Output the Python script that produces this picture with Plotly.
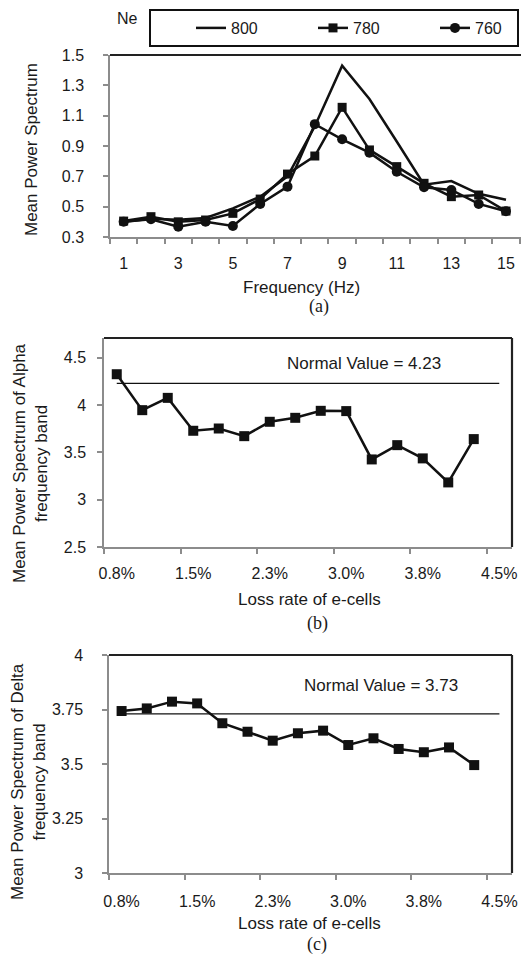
import plotly.graph_objects as go

W, H = 521, 958

# ---------------- data ----------------
freq = [1, 2, 3, 4, 5, 6, 7, 8, 9, 10, 11, 12, 13, 14, 15]
freq_tick_vals = [1, 3, 5, 7, 9, 11, 13, 15]
freq_tick_text = ["1", "3", "5", "7", "9", "11", "13", "15"]
ne_800 = [0.40, 0.42, 0.413, 0.425, 0.489, 0.566, 0.70, 1.03, 1.43, 1.21, 0.93, 0.645, 0.669, 0.585, 0.546]
ne_780 = [0.405, 0.434, 0.40, 0.412, 0.456, 0.55, 0.715, 0.834, 1.155, 0.874, 0.764, 0.654, 0.566, 0.577, 0.471]
ne_760 = [0.40, 0.417, 0.368, 0.40, 0.373, 0.518, 0.632, 1.044, 0.944, 0.856, 0.73, 0.628, 0.61, 0.518, 0.47]

loss_rate = [0.75, 1.0, 1.25, 1.5, 1.75, 2.0, 2.25, 2.5, 2.75, 3.0, 3.25, 3.5, 3.75, 4.0, 4.25, 4.5]
loss_tick_vals = [0.75, 1.5, 2.25, 3.0, 3.75, 4.5]
loss_tick_text = ["0.8%", "1.5%", "2.3%", "3.0%", "3.8%", "4.5%"]
alpha_power = [4.327, 3.947, 4.077, 3.729, 3.753, 3.672, 3.824, 3.866, 3.940, 3.937,
               3.426, 3.577, 3.437, 3.183, 3.641]
delta_power = [3.743, 3.755, 3.786, 3.778, 3.687, 3.648, 3.607, 3.641, 3.653, 3.587,
               3.618, 3.569, 3.554, 3.576, 3.495]
alpha_normal = 4.23
delta_normal = 3.73

# ---------------- helpers ----------------
def px_x(v):
    return v / W

def px_y(v):
    return 1 - v / H

SANS = "Liberation Sans, Arial, sans-serif"
SERIF = "Liberation Serif, Times New Roman, serif"
AXIS_GRAY = "#8c8c8c"
BLACK = "#111111"

fig = go.Figure()

# panel (a)
fig.add_trace(go.Scatter(x=freq, y=ne_800, name="800", mode="lines",
                         line=dict(color=BLACK, width=2.5), xaxis="x", yaxis="y"))
fig.add_trace(go.Scatter(x=freq, y=ne_780, name="780", mode="lines+markers",
                         line=dict(color=BLACK, width=2.5),
                         marker=dict(symbol="square", size=9, color=BLACK), xaxis="x", yaxis="y"))
fig.add_trace(go.Scatter(x=freq, y=ne_760, name="760", mode="lines+markers",
                         line=dict(color=BLACK, width=2.5),
                         marker=dict(symbol="circle", size=10, color=BLACK), xaxis="x", yaxis="y"))

# panel (b)
fig.add_trace(go.Scatter(x=loss_rate, y=[alpha_normal] * len(loss_rate), mode="lines",
                         line=dict(color=BLACK, width=1.2), showlegend=False,
                         xaxis="x2", yaxis="y2"))
fig.add_trace(go.Scatter(x=loss_rate[:len(alpha_power)], y=alpha_power, mode="lines+markers",
                         line=dict(color=BLACK, width=2.5),
                         marker=dict(symbol="square", size=10, color=BLACK), showlegend=False,
                         xaxis="x2", yaxis="y2"))

# panel (c)
fig.add_trace(go.Scatter(x=loss_rate, y=[delta_normal] * len(loss_rate), mode="lines",
                         line=dict(color=BLACK, width=1.2), showlegend=False,
                         xaxis="x3", yaxis="y3"))
fig.add_trace(go.Scatter(x=loss_rate[:len(delta_power)], y=delta_power, mode="lines+markers",
                         line=dict(color=BLACK, width=2.5),
                         marker=dict(symbol="square", size=10, color=BLACK), showlegend=False,
                         xaxis="x3", yaxis="y3"))

tickfont = dict(family=SANS, size=16, color="#1a1a1a")

def xaxis(domain, rng, vals, text, minor_vals, anchor, standoff):
    return dict(domain=domain, range=rng, tickmode="array", tickvals=vals, ticktext=text,
                ticks="", showgrid=False, zeroline=False, showline=True,
                linecolor=AXIS_GRAY, linewidth=1.5, tickfont=tickfont, anchor=anchor,
                ticklabelstandoff=standoff, fixedrange=True, automargin=False,
                minor=dict(tickmode="array", tickvals=minor_vals, ticks="outside",
                           ticklen=5, tickwidth=1.5, tickcolor=AXIS_GRAY, showgrid=False))

def yaxis(domain, rng, vals, anchor, standoff, fmt=None):
    d = dict(domain=domain, range=rng, tickmode="array", tickvals=vals,
             ticks="outside", ticklen=5, tickwidth=1.5, tickcolor=AXIS_GRAY,
             showgrid=False, zeroline=False, showline=True, linecolor=AXIS_GRAY,
             linewidth=1.5, tickfont=tickfont, anchor=anchor, automargin=False,
             ticklabelstandoff=standoff, fixedrange=True)
    if fmt:
        d["tickformat"] = fmt
    return d

freq_minor = [0.5 + i for i in range(16)]
loss_minor = [0.625, 1.375, 2.125, 2.875, 3.625, 4.375]

fig.update_layout(
    width=W, height=H,
    margin=dict(l=0, r=0, t=0, b=0, pad=0),
    paper_bgcolor="white", plot_bgcolor="white",
    font=dict(family=SANS, color="#1a1a1a"),
    xaxis=xaxis([px_x(110), 1.0], [0.5, 15.55], freq_tick_vals, freq_tick_text,
                freq_minor, "y", 11),
    yaxis=yaxis([px_y(237), px_y(55)], [0.3, 1.5], [0.3, 0.5, 0.7, 0.9, 1.1, 1.3, 1.5],
                "x", 16, ".1f"),
    xaxis2=xaxis([px_x(104), px_x(512)], [0.625, 4.625], loss_tick_vals, loss_tick_text,
                 loss_minor, "y2", 11),
    yaxis2=yaxis([px_y(547), px_y(338)], [2.5, 4.71], [2.5, 3.0, 3.5, 4.0, 4.5], "x2", 8),
    xaxis3=xaxis([px_x(109), px_x(512)], [0.625, 4.625], loss_tick_vals, loss_tick_text,
                 loss_minor, "y3", 13),
    yaxis3=yaxis([px_y(873), px_y(655)], [3.0, 4.0], [3.0, 3.25, 3.5, 3.75, 4.0], "x3", 16),
    legend=dict(orientation="h", x=px_x(519), y=px_y(9), xanchor="right", yanchor="top",
                bordercolor=BLACK, borderwidth=2, bgcolor="white",
                font=dict(family=SANS, size=16, color="#1a1a1a"),
                entrywidth=37, itemwidth=30, indentation=40),
    showlegend=True,
)

# dark top/right frame lines
shapes = [
    dict(type="line", xref="x domain", yref="y domain", x0=0, x1=1, y0=1, y1=1,
         line=dict(color="#222222", width=2.2)),
]
for xr, yr in (("x2", "y2"), ("x3", "y3")):
    shapes.append(dict(type="line", xref=f"{xr} domain", yref=f"{yr} domain", x0=0, x1=1,
                       y0=1, y1=1, line=dict(color="#222222", width=2.2)))
    shapes.append(dict(type="line", xref=f"{xr} domain", yref=f"{yr} domain", x0=1, x1=1,
                       y0=0, y1=1, line=dict(color="#222222", width=2.2)))
fig.update_layout(shapes=shapes)

def ann(text, x, y, size=17, family=SANS, angle=0):
    return dict(text=text, x=px_x(x), y=px_y(y), xref="paper", yref="paper",
                xanchor="center", yanchor="middle", showarrow=False, textangle=angle,
                font=dict(family=family, size=size, color="#1a1a1a"))

annotations = [
    ann("Ne", 127, 19, size=16),
    ann("Mean Power Spectrum", 32, 150, angle=-90),
    ann("Frequency (Hz)", 301, 287),
    ann("(a)", 319, 306, family=SERIF, size=18),
    ann("Normal Value = 4.23", 364, 363),
    ann("Mean Power Spectrum of Alpha<br>frequency band", 30, 463, angle=-90),
    ann("Loss rate of e-cells", 309, 599),
    ann("(b)", 317, 623, family=SERIF, size=18),
    ann("Normal Value = 3.73", 381, 685),
    ann("Mean Power Spectrum of Delta<br>frequency band", 28, 782, angle=-90),
    ann("Loss rate of e-cells", 309, 923),
    ann("(c)", 317, 944, family=SERIF, size=18),
]
fig.update_layout(annotations=annotations)

fig.write_html("out.html", config={"displayModeBar": False},
               post_script="document.body.style.margin='0px';document.body.style.padding='0px';")
